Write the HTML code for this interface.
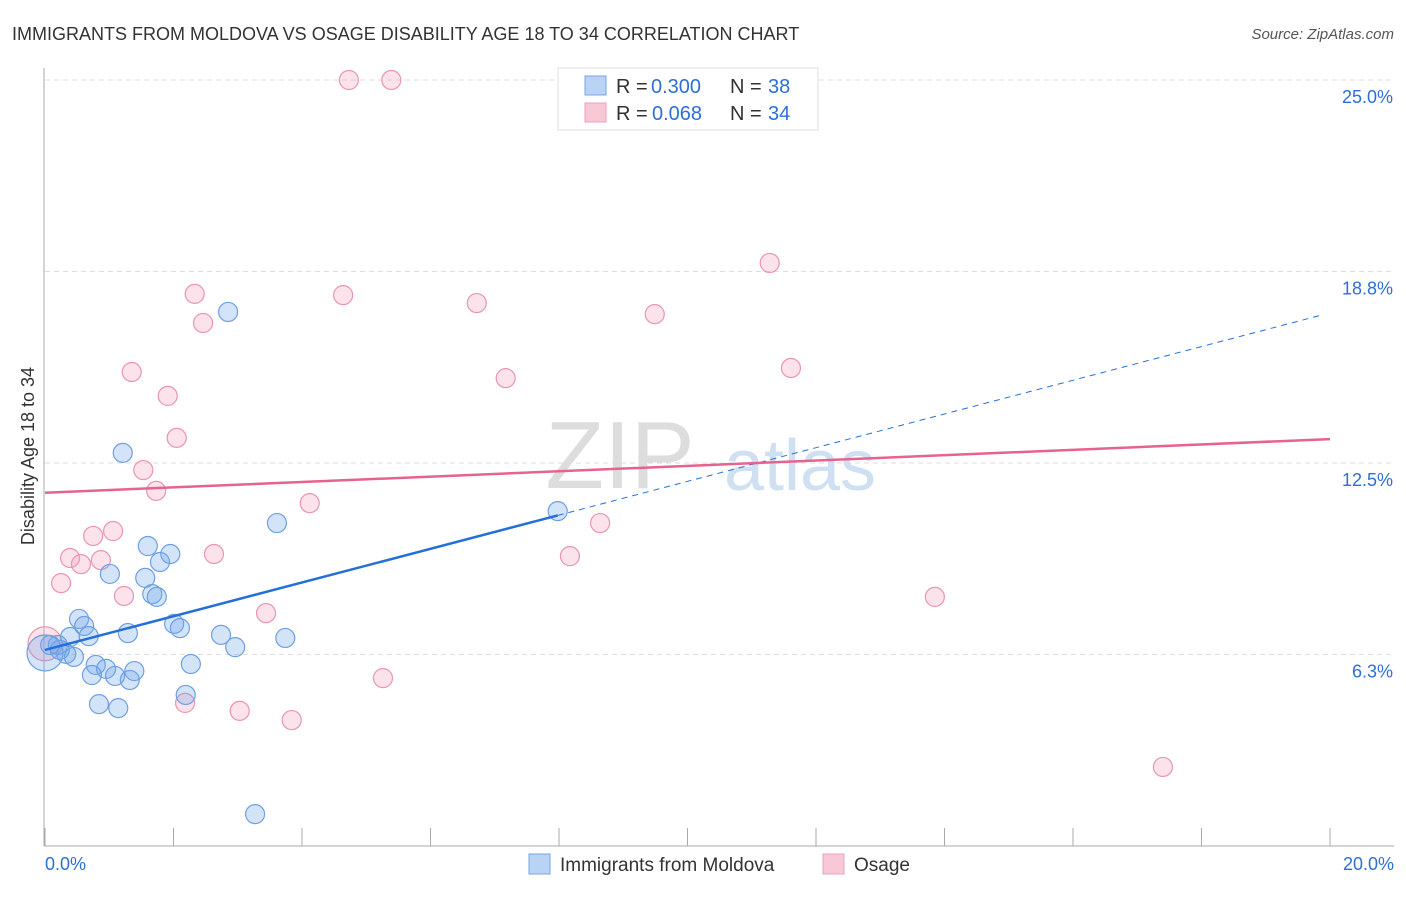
<!DOCTYPE html>
<html><head><meta charset="utf-8"><style>
body{margin:0;background:#fff;font-family:"Liberation Sans",sans-serif;}
svg text{font-family:"Liberation Sans",sans-serif;}
</style></head><body>
<svg id="c" width="1406" height="892" xmlns="http://www.w3.org/2000/svg">
<text x="12" y="40" font-size="18" fill="#333">IMMIGRANTS FROM MOLDOVA VS OSAGE DISABILITY AGE 18 TO 34 CORRELATION CHART</text>
<text x="1394" y="39" font-size="15" fill="#555" font-style="italic" text-anchor="end">Source: ZipAtlas.com</text>
<text x="620" y="488" font-size="96" fill="#ddd" font-family="Liberation Serif" text-anchor="middle">ZIP</text>
<text x="800" y="490" font-size="72" fill="#cfe0f3" text-anchor="middle">atlas</text>
<text transform="translate(34,456) rotate(-90)" font-size="18" fill="#333" text-anchor="middle">Disability Age 18 to 34</text>
<g id="grid"></g><g id="marks"></g>
<g>
<rect x="558" y="68" width="260" height="62" fill="#fff" stroke="#ddd"/>
<rect x="585" y="76" width="21" height="19" fill="#b9d3f5" stroke="#7aa6e4"/>
<rect x="585" y="103" width="21" height="19" fill="#f9c8d6" stroke="#eca0b8"/>
<text x="616" y="93" font-size="20" fill="#333">R =</text>
<text x="651" y="93" font-size="20" fill="#2d6fd6">0.300</text>
<text x="730" y="93" font-size="20" fill="#333">N =</text>
<text x="768" y="93" font-size="20" fill="#2d6fd6">38</text>
<text x="616" y="120" font-size="20" fill="#333">R =</text>
<text x="652" y="120" font-size="20" fill="#2d6fd6">0.068</text>
<text x="730" y="120" font-size="20" fill="#333">N =</text>
<text x="768" y="120" font-size="20" fill="#2d6fd6">34</text>
</g>
<g>
<rect x="529" y="854" width="21" height="20" fill="#b9d3f5" stroke="#7aa6e4"/>
<text x="560" y="871" font-size="19" fill="#333">Immigrants from Moldova</text>
<rect x="823" y="854" width="21" height="20" fill="#f9c8d6" stroke="#eca0b8"/>
<text x="854" y="871" font-size="19" fill="#333">Osage</text>
</g>
</svg>
<script>
const yTicks=[6.25,12.5,18.75,25];
const yTickLabels=["6.3%","12.5%","18.8%","25.0%"];
const xTickLabels=["0.0%","20.0%"];
const blueX=[2.85,1.21,7.98,3.61,1.60,1.95,1.79,1.01,1.56,1.67,1.74,0.53,0.61,0.68,1.29,2.01,2.10,2.74,2.96,3.74,0.39,0.20,0.33,0.45,0.79,0.95,1.39,0.73,1.09,1.32,2.27,2.19,0.84,1.14,3.27,0.08,0.23,0.0];
const blueY=[17.43,12.83,10.93,10.54,9.79,9.53,9.27,8.88,8.75,8.22,8.13,7.41,7.18,6.85,6.95,7.25,7.11,6.89,6.49,6.79,6.82,6.56,6.27,6.17,5.91,5.78,5.71,5.58,5.55,5.42,5.94,4.93,4.63,4.50,1.04,6.56,6.40,6.3];
const pinkX=[4.73,5.39,11.28,2.33,4.64,6.72,2.46,9.49,1.35,11.61,7.17,1.91,2.05,1.53,1.73,4.12,1.06,0.75,0.39,0.87,2.63,0.56,0.25,8.17,8.64,1.23,13.85,3.44,5.26,2.18,3.03,3.84,17.40,0.0];
const pinkY=[25.0,25.0,19.03,18.02,17.98,17.72,17.07,17.36,15.47,15.60,15.27,14.69,13.32,12.27,11.59,11.19,10.28,10.12,9.40,9.33,9.53,9.20,8.58,9.46,10.54,8.16,8.13,7.60,5.48,4.67,4.41,4.11,2.58,6.6];
const blueTrend=[6.4,0.55];
const pinkTrend=[11.53,0.0875];
const X=v=>45+v*1285/20, Y=v=>846-v*30.64;
const NS="http://www.w3.org/2000/svg";
function mk(t,a,p){const e=document.createElementNS(NS,t);for(const k in a)e.setAttribute(k,a[k]);p.appendChild(e);return e;}
const g=document.getElementById('grid'), m=document.getElementById('marks');
yTicks.forEach((t,i)=>{
 const l=mk('line',{x1:45,x2:1394,y1:Y(t),y2:Y(t),stroke:'#ddd','stroke-dasharray':'5,4'},g);
 
 
 const tx=mk('text',{x:1393,y:Y(t)+23,'font-size':18,fill:'#2d6fd6','text-anchor':'end'},g);
 tx.textContent=yTickLabels[i];
 
 
});
const ax=mk('line',{x1:44,x2:44,y1:68,y2:846,stroke:'#aaa'},g);


const bx=mk('line',{x1:44,x2:1394,y1:846,y2:846,stroke:'#aaa'},g);


for(let i=0;i<=10;i++){const t=mk('line',{x1:X(i*2),x2:X(i*2),y1:828,y2:846,stroke:'#aaa'},g);
 
 }
[[0,'start',45],[20,'end',1394]].forEach((d,i)=>{const t=mk('text',{x:d[2],y:870,'font-size':18,fill:'#2d6fd6','text-anchor':d[1]},g);t.textContent=xTickLabels[i];
 
 });
function dot(x,y,r,fill,st,name){const c=mk('circle',{cx:X(x),cy:Y(y),r:r,fill:fill,stroke:st,'stroke-width':1.2},m);
 
 }
pinkX.forEach((x,i)=>dot(x,pinkY[i],i==pinkX.length-1?17:9.5,'rgba(244,160,188,0.3)','#e995b0','osage-point'));
blueX.forEach((x,i)=>dot(x,blueY[i],i==blueX.length-1?18:9.5,'rgba(110,165,235,0.3)','#6e9fe2','moldova-point'));
const f=(t,x)=>t[0]+t[1]*x;
let l1=mk('line',{x1:X(0),y1:Y(f(blueTrend,0)),x2:X(7.98),y2:Y(f(blueTrend,7.98)),stroke:'#2470d8','stroke-width':2.5},m);


let l2=mk('line',{x1:X(7.98),y1:Y(f(blueTrend,7.98)),x2:X(19.9),y2:Y(f(blueTrend,19.9)),stroke:'#2470d8','stroke-width':1,'stroke-dasharray':'6,5'},m);


let l3=mk('line',{x1:X(0),y1:Y(f(pinkTrend,0)),x2:X(20),y2:Y(f(pinkTrend,20)),stroke:'#e7638f','stroke-width':2.5},m);


</script>
</body></html>
